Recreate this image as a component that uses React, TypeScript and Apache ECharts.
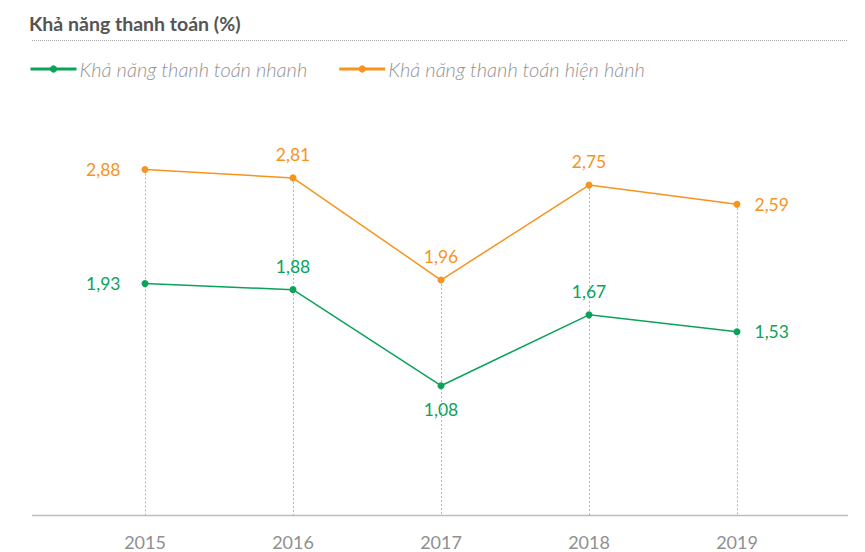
import React, { useEffect, useRef } from "react";
import * as echarts from "echarts";

const years = ["2015", "2016", "2017", "2018", "2019"];
const quickRatio = [1.93, 1.88, 1.08, 1.67, 1.53];
const currentRatio = [2.88, 2.81, 1.96, 2.75, 2.59];
const seriesNames = ["Khả năng thanh toán nhanh", "Khả năng thanh toán hiện hành"];
const titleText = "Khả năng thanh toán (%)";
const quickLabelPos = ["left", "top", "bottom", "top", "right"];
const currentLabelPos = ["left", "top", "top", "top", "right"];

const GREEN = "#0aa358";
const ORANGE = "#f7941d";
const FONT = "Lato, 'Open Sans', sans-serif";

const fmt = (v: number) => v.toFixed(2).replace(".", ",");

export default function App() {
  const ref = useRef<HTMLDivElement>(null);
  useEffect(() => {
    if (!ref.current) return;
    const chart = echarts.init(ref.current, null, { renderer: "svg" });
    const distFor = (p: string) => (p === "left" ? 21 : p === "right" ? 14 : 11);
    const mkData = (vals: number[], pos: string[], color: string) =>
      vals.map((v, i) => ({
        value: v,
        label: { position: pos[i] as any, color, distance: distFor(pos[i]) },
      }));
    chart.setOption({
      animation: false,
      backgroundColor: "#ffffff",
      textStyle: { fontFamily: FONT },
      title: {
        text: titleText,
        left: 24,
        top: 8,
        textStyle: { fontFamily: FONT, fontSize: 19.5, fontWeight: "bold", color: "#555555" },
      },
      graphic: [
        {
          type: "line",
          shape: { x1: 32, y1: 40.5, x2: 848, y2: 40.5 },
          style: { stroke: "#aaaaaa", lineWidth: 1, lineDash: [1, 1] },
        },
        {
          type: "line",
          shape: { x1: 32, y1: 515.5, x2: 848, y2: 515.5 },
          style: { stroke: "#bcbcbc", lineWidth: 1.5 },
        },
      ],
      legend: {
        left: 24,
        top: 54,
        itemWidth: 46,
        itemHeight: 9,
        itemGap: 30,
        lineStyle: { width: 3 },
        textStyle: {
          fontFamily: FONT,
          fontSize: 20,
          fontStyle: "italic",
          fontWeight: 300,
          color: "#939393",
          padding: [0, 0, 0, -2],
        },
        data: seriesNames,
      },
      grid: { left: 71, right: 54, top: 95, bottom: 36.5, containLabel: false },
      xAxis: {
        type: "category",
        data: years,
        boundaryGap: true,
        axisLine: { show: false },
        axisTick: { show: false },
        axisLabel: { color: "#909090", fontSize: 18, margin: 17, fontFamily: FONT },
        splitLine: { show: false },
      },
      yAxis: {
        type: "value",
        min: 0,
        max: 3.5,
        show: false,
        splitLine: { show: false },
      },
      series: [
        {
          name: seriesNames[0],
          type: "line",
          data: mkData(quickRatio, quickLabelPos, GREEN),
          color: GREEN,
          symbol: "circle",
          symbolSize: 7,
          lineStyle: { width: 1.5, color: GREEN },
          itemStyle: { color: GREEN },
          label: {
            show: true,
            fontSize: 17.5,
            fontFamily: FONT,
            formatter: (p: any) => fmt(p.value),
          },
          z: 3,
        },
        {
          name: seriesNames[1],
          type: "line",
          data: mkData(currentRatio, currentLabelPos, ORANGE),
          color: ORANGE,
          symbol: "circle",
          symbolSize: 7,
          lineStyle: { width: 1.5, color: ORANGE },
          itemStyle: { color: ORANGE },
          label: {
            show: true,
            fontSize: 17.5,
            fontFamily: FONT,
            formatter: (p: any) => fmt(p.value),
          },
          markLine: {
            silent: true,
            symbol: "none",
            label: { show: false },
            lineStyle: { color: "#b5b5b5", type: [2, 2], width: 1 },
            z: 1,
            data: years.map((y, i) => [
              { xAxis: i, yAxis: currentRatio[i] },
              { xAxis: i, yAxis: 0 },
            ]),
          },
          z: 3,
        },
      ],
    });
    return () => chart.dispose();
  }, []);
  return <div ref={ref} style={{ width: 865, height: 552, position: "absolute", left: 0, top: 0 }} />;
}
